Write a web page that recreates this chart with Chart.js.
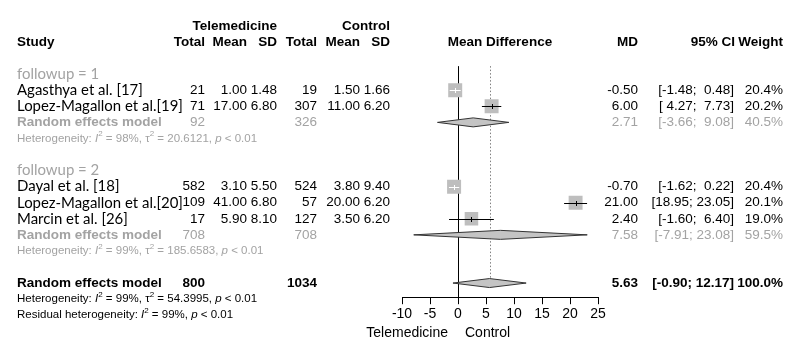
<!DOCTYPE html>
<html>
<head>
<meta charset="utf-8">
<script src="https://cdn.jsdelivr.net/npm/chart.js@4.4.0/dist/chart.umd.min.js"></script>
<style>
  html, body { margin: 0; padding: 0; background: #fff; }
  canvas { display: block; }
</style>
</head>
<body>
<canvas id="forest" width="786" height="341"></canvas>
<script>
// study level data
const studies = ["Agasthya et al. [17]", "Lopez-Magallon et al.[19]", "Dayal et al. [18]", "Lopez-Magallon et al.[20]", "Marcin et al. [26]"];
const studyRows = [5, 6, 11, 12, 13];
const teleN = [21, 71, 582, 109, 17];
const teleMean = [1.00, 17.00, 3.10, 41.00, 5.90];
const teleSD = [1.48, 6.80, 5.50, 6.80, 8.10];
const ctrlN = [19, 307, 524, 57, 127];
const ctrlMean = [1.50, 11.00, 3.80, 20.00, 3.50];
const ctrlSD = [1.66, 6.20, 9.40, 6.20, 6.20];
const md = [-0.50, 6.00, -0.70, 21.00, 2.40];
const ciLow = [-1.48, 4.27, -1.62, 18.95, -1.60];
const ciHigh = [0.48, 7.73, 0.22, 23.05, 6.40];
const weight = [20.4, 20.2, 20.4, 20.1, 19.0];

// subgroups
const groupLabels = ["followup = 1", "followup = 2"];
const groupRows = [4, 10];
const groupReRows = [7, 14];
const groupHetRows = [8, 15];
const groupTeleN = [92, 708];
const groupCtrlN = [326, 708];
const groupMD = [2.71, 7.58];
const groupLow = [-3.66, -7.91];
const groupHigh = [9.08, 23.08];
const groupWeight = [40.5, 59.5];
const groupI2 = ["98%", "99%"];
const groupTau2 = ["20.6121", "185.6583"];

// overall
const overallRow = 17;
const overallTeleN = 800;
const overallCtrlN = 1034;
const overallMD = 5.63;
const overallLow = -0.90;
const overallHigh = 12.17;
const overallWeight = 100.0;
const overallI2 = "99%";
const overallTau2 = "54.3995";
const residualI2 = "99%";

const xTicks = [-10, -5, 0, 5, 10, 15, 20, 25];

const BLACK = '#000';
const GRAY = '#a3a3a3';
const SANS = '"Liberation Sans", Arial, sans-serif';
const NAME = 'Lato, "Open Sans", sans-serif';

const col = { study: 17, tN: 205, tM: 247, tS: 277, cN: 317, cM: 360, cS: 390, md: 638, ci: 734, w: 783 };

const f2 = v => v.toFixed(2);
const ciText = (lo, hi) => '[' + f2(lo).padStart(5, ' ') + '; ' + f2(hi).padStart(5, ' ') + ']';

function squareSide(w) { return 14 * Math.sqrt(w / 20.4); }

function hline(ctx, x1, x2, y) {
  ctx.beginPath(); ctx.moveTo(x1, y); ctx.lineTo(x2, y); ctx.stroke();
}
function vline(ctx, x, y1, y2) {
  ctx.beginPath(); ctx.moveTo(x, y1); ctx.lineTo(x, y2); ctx.stroke();
}

let nameSize = 14;
function fitNameFont(ctx) {
  ctx.font = '100px ' + NAME;
  const w = ctx.measureText(studies[1]).width;
  nameSize = 100 * 166 / w;
}

function text(ctx, s, x, y, align, font, color) {
  ctx.font = font; ctx.fillStyle = color; ctx.textAlign = align; ctx.textBaseline = 'middle';
  ctx.fillText(s, x, y);
}

function hetText(ctx, x, y, i2, tau2, color, residual) {
  const size = 11.5;
  const segs = residual
    ? [["Residual heterogeneity: "], ["I", 'i'], ["2", 's'], [" = " + i2 + ", "], ["p", 'i'], [" < 0.01"]]
    : [["Heterogeneity: "], ["I", 'i'], ["2", 's'], [" = " + i2 + ", "], ["\u03c4"], ["2", 's'], [" = " + tau2 + ", "], ["p", 'i'], [" < 0.01"]];
  ctx.fillStyle = color; ctx.textAlign = 'left'; ctx.textBaseline = 'middle';
  let cx = x;
  segs.forEach(([s, k]) => {
    if (k === 's') ctx.font = '8px ' + SANS;
    else if (k === 'i') ctx.font = 'italic ' + size + 'px ' + SANS;
    else ctx.font = size + 'px ' + SANS;
    ctx.fillText(s, cx, k === 's' ? y - 4.5 : y);
    cx += ctx.measureText(s).width;
  });
}

const forestPlugin = {
  id: 'forest',
  beforeDatasetsDraw(chart) {
    const { ctx, scales: { x, y } } = chart;
    const px = v => Math.round(x.getPixelForValue(v)) + 0.5;
    ctx.save();
    // line of no effect
    ctx.strokeStyle = BLACK; ctx.lineWidth = 1;
    vline(ctx, px(0), y.getPixelForValue(3.5), chart.chartArea.bottom);
    // overall effect dotted line
    ctx.setLineDash([1.5, 2]); ctx.strokeStyle = '#808080';
    vline(ctx, px(overallMD), y.getPixelForValue(3.5), y.getPixelForValue(overallRow));
    ctx.setLineDash([]);
    // diamonds
    const diamond = (est, lo, hi, row) => {
      const yc = y.getPixelForValue(row), h = 4.5;
      ctx.beginPath();
      ctx.moveTo(x.getPixelForValue(lo), yc);
      ctx.lineTo(x.getPixelForValue(est), yc - h);
      ctx.lineTo(x.getPixelForValue(hi), yc);
      ctx.lineTo(x.getPixelForValue(est), yc + h);
      ctx.closePath();
      ctx.fillStyle = '#c4c4c4'; ctx.fill();
      ctx.strokeStyle = '#333'; ctx.lineWidth = 1; ctx.stroke();
    };
    groupMD.forEach((v, i) => diamond(v, groupLow[i], groupHigh[i], groupReRows[i]));
    diamond(overallMD, overallLow, overallHigh, overallRow);
    ctx.restore();
  },
  afterDatasetsDraw(chart) {
    const { ctx, scales: { x, y } } = chart;
    ctx.save();
    ctx.lineWidth = 1;
    md.forEach((v, i) => {
      const yc = Math.round(y.getPixelForValue(studyRows[i])) + 0.5;
      const lx = x.getPixelForValue(ciLow[i]), hx = x.getPixelForValue(ciHigh[i]);
      ctx.strokeStyle = (hx - lx) < squareSide(weight[i]) ? '#fff' : BLACK;
      hline(ctx, lx, hx, yc);
      const mx = Math.round(x.getPixelForValue(v)) + 0.5;
      vline(ctx, mx, yc - 2.5, yc + 2.5);
    });
    ctx.restore();
  },
  afterDraw(chart) {
    const { ctx, scales: { x, y } } = chart;
    ctx.save();
    fitNameFont(ctx);
    const nameFont = nameSize + 'px ' + NAME;
    const hdr = 'bold 13.5px ' + SANS;
    const num = '13.5px ' + SANS;
    const numBold = 'bold 13.5px ' + SANS;
    const ry = r => y.getPixelForValue(r);

    // header
    text(ctx, 'Telemedicine', col.tS, ry(1), 'right', hdr, BLACK);
    text(ctx, 'Control', col.cS, ry(1), 'right', hdr, BLACK);
    text(ctx, 'Study', col.study, ry(2), 'left', hdr, BLACK);
    [['Total', col.tN], ['Mean', col.tM], ['SD', col.tS], ['Total', col.cN], ['Mean', col.cM], ['SD', col.cS],
     ['MD', col.md], ['95% CI', col.ci + 1], ['Weight', col.w]].forEach(([s, cx]) => text(ctx, s, cx, ry(2), 'right', hdr, BLACK));
    text(ctx, 'Mean Difference', (x.left + x.right) / 2, ry(2), 'center', hdr, BLACK);

    // studies
    studies.forEach((s, i) => {
      const yy = ry(studyRows[i]);
      text(ctx, s, col.study, yy, 'left', nameFont, BLACK);
      text(ctx, String(teleN[i]), col.tN, yy, 'right', num, BLACK);
      text(ctx, f2(teleMean[i]), col.tM, yy, 'right', num, BLACK);
      text(ctx, f2(teleSD[i]), col.tS, yy, 'right', num, BLACK);
      text(ctx, String(ctrlN[i]), col.cN, yy, 'right', num, BLACK);
      text(ctx, f2(ctrlMean[i]), col.cM, yy, 'right', num, BLACK);
      text(ctx, f2(ctrlSD[i]), col.cS, yy, 'right', num, BLACK);
      text(ctx, f2(md[i]), col.md, yy, 'right', num, BLACK);
      text(ctx, ciText(ciLow[i], ciHigh[i]), col.ci, yy, 'right', num, BLACK);
      text(ctx, weight[i].toFixed(1) + '%', col.w, yy, 'right', num, BLACK);
    });

    // subgroups
    groupLabels.forEach((s, i) => {
      text(ctx, s, col.study, ry(groupRows[i]), 'left', nameFont, GRAY);
      const yy = ry(groupReRows[i]);
      text(ctx, 'Random effects model', col.study, yy, 'left', numBold, GRAY);
      text(ctx, String(groupTeleN[i]), col.tN, yy, 'right', num, GRAY);
      text(ctx, String(groupCtrlN[i]), col.cN, yy, 'right', num, GRAY);
      text(ctx, f2(groupMD[i]), col.md, yy, 'right', num, GRAY);
      text(ctx, ciText(groupLow[i], groupHigh[i]), col.ci, yy, 'right', num, GRAY);
      text(ctx, groupWeight[i].toFixed(1) + '%', col.w, yy, 'right', num, GRAY);
      hetText(ctx, col.study, ry(groupHetRows[i]), groupI2[i], groupTau2[i], GRAY, false);
    });

    // overall
    const oy = ry(overallRow);
    text(ctx, 'Random effects model', col.study, oy, 'left', numBold, BLACK);
    text(ctx, String(overallTeleN), col.tN, oy, 'right', numBold, BLACK);
    text(ctx, String(overallCtrlN), col.cN, oy, 'right', numBold, BLACK);
    text(ctx, f2(overallMD), col.md, oy, 'right', numBold, BLACK);
    text(ctx, ciText(overallLow, overallHigh), col.ci, oy, 'right', numBold, BLACK);
    text(ctx, overallWeight.toFixed(1) + '%', col.w, oy, 'right', numBold, BLACK);
    hetText(ctx, col.study, ry(overallRow + 1), overallI2, overallTau2, BLACK, false);
    hetText(ctx, col.study, ry(overallRow + 2), residualI2, '', BLACK, true);

    // axis labels
    const zx = x.getPixelForValue(0);
    text(ctx, 'Telemedicine', zx - 10, 333, 'right', '14px ' + SANS, BLACK);
    text(ctx, 'Control', zx + 7, 333, 'left', '14px ' + SANS, BLACK);
    ctx.restore();
  }
};

new Chart(document.getElementById('forest'), {
  type: 'scatter',
  data: {
    datasets: [{
      data: md.map((v, i) => ({ x: v, y: studyRows[i] })),
      pointStyle: 'rect',
      pointRadius: weight.map(w => squareSide(w) / Math.SQRT2),
      pointHoverRadius: weight.map(w => squareSide(w) / Math.SQRT2),
      backgroundColor: '#bebebe',
      borderColor: '#bebebe',
      borderWidth: 0
    }]
  },
  options: {
    responsive: false,
    animation: false,
    events: [],
    layout: { padding: { left: 402, right: 188, top: 0, bottom: 16 } },
    plugins: { legend: { display: false }, tooltip: { enabled: false } },
    scales: {
      x: {
        type: 'linear',
        min: -10, max: 25,
        afterBuildTicks: axis => { axis.ticks = xTicks.map(v => ({ value: v })); },
        ticks: { color: BLACK, font: { family: SANS, size: 14 }, padding: 2, maxRotation: 0 },
        grid: { drawOnChartArea: false, drawTicks: true, tickLength: 7, color: BLACK },
        border: { display: true, color: BLACK, width: 1 }
      },
      y: {
        display: false,
        reverse: true,
        min: 0, max: 17.88
      }
    }
  },
  plugins: [forestPlugin]
});
</script>
</body>
</html>
